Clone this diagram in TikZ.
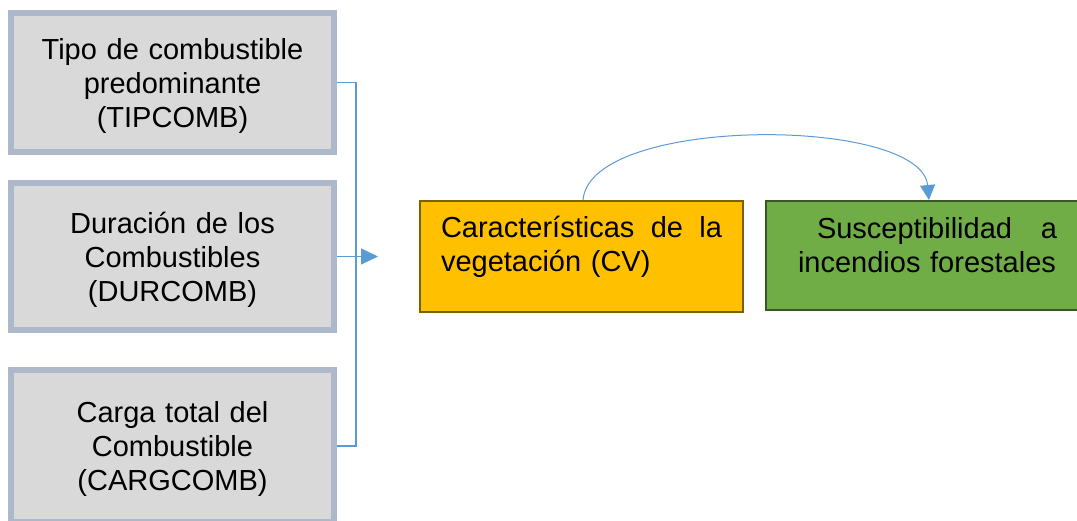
\documentclass[tikz,border=0pt]{standalone}
\usepackage{fontspec}
\setmainfont{Liberation Sans}
\usepackage{tikz}
\usetikzlibrary{arrows.meta, positioning}
\definecolor{boxfill}{HTML}{D9D9D9}
\definecolor{boxedge}{HTML}{ADB9CA}
\definecolor{cvfill}{HTML}{FFC000}
\definecolor{cvedge}{HTML}{7F6000}
\definecolor{susfill}{HTML}{70AD47}
\definecolor{susedge}{HTML}{385723}
\definecolor{linkblue}{HTML}{5B9BD5}

\begin{document}
\begin{tikzpicture}[
  x=1pt, y=-1pt,
  every node/.style={font=\fontsize{29}{34}\selectfont},
  factor/.style={draw=boxedge, line width=6pt, fill=boxfill, text width=323pt,
    inner xsep=0pt, inner ysep=0pt, align=center},
  cvbox/.style={draw=cvedge, line width=2pt, fill=cvfill, text width=281pt,
    inner xsep=21pt, inner ysep=0pt, align=left, text height=37pt, text depth=74pt},
  susbox/.style={draw=susedge, line width=2pt, fill=susfill, text width=259pt,
    inner xsep=32pt, inner ysep=0pt, align=left, text height=38pt, text depth=71pt},
  link/.style={line width=1.2pt, linkblue},
  arrow/.style={-{Triangle[length=17pt, width=16pt]}, line width=1.2pt, linkblue}
]
\useasboundingbox (0,0) rectangle (1077,521);
% factores de combustible
\node[factor, text height=47pt, text depth=92pt] (tip) at (172.5,82.5)
  {Tipo de combustible\\predominante\\(TIPCOMB)};
\node[factor, text height=51pt, text depth=96pt, below=25pt of tip] (dur)
  {Duración de los\\Combustibles\\(DURCOMB)};
\node[factor, text height=53pt, text depth=99pt, below=34pt of dur] (carg)
  {Carga total del\\Combustible\\(CARGCOMB)};
% variable y resultado
\node[cvbox, right=82pt of dur] (cv)
  {\hbox to 281pt{Características\hfill de\hfill la}\\vegetación (CV)};
\node[susbox, right=21pt of cv.north east, anchor=north west] (sus)
  {\hbox to 259pt{\hspace*{19pt}Susceptibilidad\hfill a}\\incendios forestales};
% conectores
\coordinate[right=19pt of dur.east] (spine);
\coordinate[right=41pt of dur.east] (inlet);
\draw[link] (tip.east) -| (spine) |- (carg.east);
\draw[arrow] (dur.east) -- (inlet);
\draw[-{Triangle[length=15pt, width=15pt]}, line width=1pt, linkblue]
  ([xshift=1.5pt]cv.north) .. controls +(7,-85) and +(-8,-84) .. ([xshift=1.5pt]sus.north);
\end{tikzpicture}
\end{document}
